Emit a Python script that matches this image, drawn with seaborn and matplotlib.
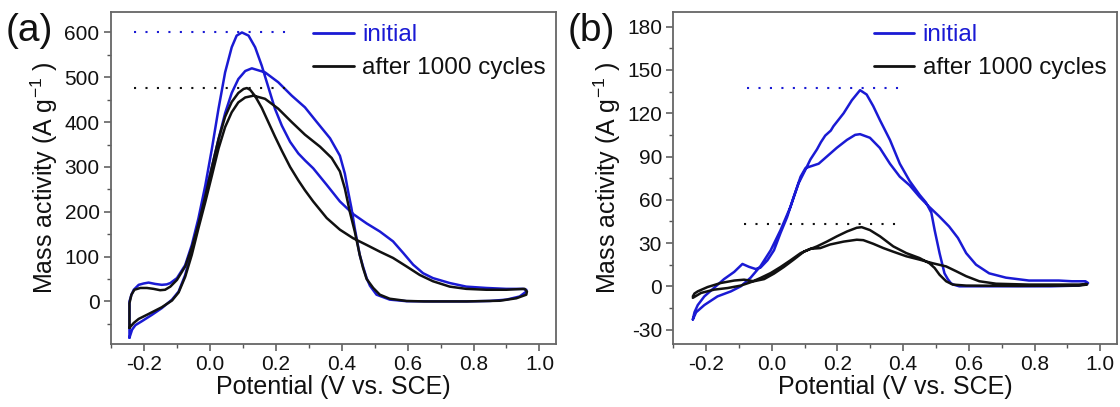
import numpy as np
import pandas as pd
import matplotlib
matplotlib.use("Agg")
import matplotlib.pyplot as plt
from matplotlib.ticker import MultipleLocator
import seaborn as sns

# (a) 初始 / 1000 圈后 的 CV 回路（正扫 + 回扫）
a_init_x = [-0.243, -0.243, -0.243, -0.237, -0.230, -0.215, -0.200, -0.185, -0.165, -0.145, -0.130, -0.119,
            -0.099, -0.074, -0.054, -0.034, -0.013, 0.007, 0.027, 0.047, 0.067, 0.082, 0.098, 0.118, 0.138,
            0.158, 0.178, 0.198, 0.219, 0.244, 0.269, 0.290, 0.314, 0.355, 0.395, 0.435, 0.476, 0.516, 0.556,
            0.587, 0.617, 0.647, 0.677, 0.728, 0.778, 0.839, 0.899, 0.950, 0.960,
            0.960, 0.940, 0.900, 0.850, 0.778, 0.677, 0.597, 0.546, 0.506, 0.486, 0.476, 0.465, 0.455, 0.440,
            0.430, 0.420, 0.410, 0.395, 0.365, 0.324, 0.289, 0.249, 0.208, 0.168, 0.128, 0.108, 0.087, 0.067,
            0.047, 0.027, 0.007, -0.013, -0.034, -0.054, -0.074, -0.094, -0.114, -0.145, -0.175, -0.205,
            -0.225, -0.235, -0.243]
a_init_y = [-81, -40, 0, 15, 26, 37, 40, 42, 39, 37, 38, 41,
            52, 81, 126, 185, 259, 341, 430, 511, 567, 593, 600, 593, 567,
            526, 478, 430, 392, 356, 330, 314, 297, 260, 223, 195, 174, 156, 134,
            108, 82, 63, 52, 41, 33, 30, 28, 28, 26,
            22, 11, 4, 1, 0, 0, 0.5, 4, 15, 35, 52, 78, 104, 163,
            208, 245, 285, 325, 364, 401, 433, 459, 489, 511, 520, 514, 496, 465,
            420, 362, 300, 237, 174, 115, 59, 22, 4, -15, -30, -44,
            -53, -63, -81]

a_cyc_x = [-0.243, -0.243, -0.243, -0.237, -0.228, -0.210, -0.190, -0.170, -0.150, -0.135, -0.119, -0.099,
           -0.074, -0.054, -0.034, -0.013, 0.007, 0.027, 0.047, 0.067, 0.087, 0.103, 0.113, 0.123, 0.138,
           0.158, 0.178, 0.198, 0.219, 0.244, 0.269, 0.289, 0.314, 0.355, 0.395, 0.435, 0.476, 0.516, 0.556,
           0.597, 0.637, 0.677, 0.728, 0.778, 0.839, 0.899, 0.955, 0.962,
           0.960, 0.930, 0.880, 0.780, 0.650, 0.597, 0.546, 0.516, 0.496, 0.476, 0.465, 0.455, 0.440, 0.425,
           0.410, 0.395, 0.370, 0.335, 0.289, 0.249, 0.208, 0.168, 0.133, 0.108, 0.087, 0.067, 0.047, 0.027,
           0.007, -0.013, -0.034, -0.054, -0.074, -0.094, -0.114, -0.145, -0.185, -0.215, -0.230, -0.243]
a_cyc_y = [-59, -30, -4, 15, 26, 30, 30, 28, 25, 26, 33, 48,
           78, 120, 172, 235, 300, 362, 412, 445, 465, 474, 476, 472, 458,
           432, 400, 368, 336, 300, 270, 248, 223, 186, 160, 141, 126, 111, 97,
           78, 59, 45, 33, 28, 26, 26, 28, 22,
           15, 7, 1.5, 0, 0, 1, 6, 15, 30, 50, 75, 104, 156, 200,
           252, 290, 320, 345, 372, 400, 430, 452, 459, 455, 444, 422, 389, 341,
           281, 222, 163, 104, 55, 20, 2, -13, -28, -39, -48, -59]

# (b)
b_init_x = [-0.240, -0.235, -0.225, -0.205, -0.175, -0.145, -0.114, -0.089, -0.069, -0.049, -0.034, -0.013,
            0.007, 0.027, 0.047, 0.067, 0.088, 0.103, 0.123, 0.143, 0.168, 0.198, 0.229, 0.254, 0.269, 0.299,
            0.329, 0.360, 0.390, 0.420, 0.450, 0.480, 0.510, 0.540, 0.567, 0.592, 0.622, 0.662, 0.713, 0.783,
            0.874, 0.914, 0.955, 0.963,
            0.960, 0.935, 0.850, 0.682, 0.571, 0.556, 0.546, 0.536, 0.526, 0.511, 0.496, 0.486, 0.470, 0.450,
            0.420, 0.390, 0.360, 0.330, 0.309, 0.289, 0.269, 0.244, 0.219, 0.188, 0.180, 0.163, 0.150, 0.138,
            0.118, 0.103, 0.082, 0.057, 0.027, -0.003, -0.034, -0.064, -0.094, -0.124, -0.165, -0.205, -0.230,
            -0.240]
b_init_y = [-23, -18, -13, -7, -1, 5, 10, 15.5, 13.5, 12, 13, 18,
            25, 37, 48, 62, 76, 82, 83.5, 85, 90, 96, 101.5, 105, 105.5, 103,
            96, 85, 76, 70, 62, 55, 48.5, 41.5, 33.5, 23, 15, 9, 6, 4,
            4, 3.5, 3.5, 2.3,
            2, 0.5, 0, 0, 0, 1, 2, 5, 9, 23, 39, 51, 58, 63.5,
            73, 85, 101.5, 115, 125, 133, 136, 129, 120, 111, 108, 104.5, 100, 95,
            88, 81, 71.5, 55, 39, 25, 14, 6, 0, -3.5, -7, -13, -18,
            -23]

b_cyc_x = [-0.240, -0.235, -0.225, -0.195, -0.155, -0.114, -0.084, -0.054, -0.023, 0.007, 0.037, 0.067,
           0.098, 0.118, 0.148, 0.178, 0.219, 0.259, 0.279, 0.309, 0.340, 0.370, 0.410, 0.450, 0.490, 0.531,
           0.562, 0.592, 0.632, 0.683, 0.783, 0.935, 0.960,
           0.960, 0.935, 0.750, 0.592, 0.551, 0.531, 0.511, 0.496, 0.480, 0.450, 0.410, 0.370, 0.330, 0.299,
           0.274, 0.259, 0.229, 0.198, 0.168, 0.138, 0.108, 0.088, 0.057, 0.027, -0.003, -0.034, -0.064,
           -0.094, -0.134, -0.175, -0.215, -0.240]
b_cyc_y = [-7, -5, -3.5, -0.5, 2.3, 4, 4.6, 3.5, 5, 8.8, 13.4, 18.5,
           24, 26, 26.5, 29, 31, 32.3, 32, 29.5, 26.5, 24, 20.8, 18.5, 16, 13.8,
           10.4, 7, 3.5, 1.8, 1.2, 1.2, 1.6,
           1.2, 0.5, 0.3, 0.5, 1.2, 3.5, 8, 12.7, 16, 19.6, 23, 27.7, 34.6, 39,
           41, 40.6, 38, 34.6, 31, 27.7, 25, 23, 18, 13.4, 9.2, 5.8, 2.8,
           0.5, -1.2, -2.3, -4.6, -8]

# 峰值虚线
a_peak_x = [-0.23, 0.235]
a_peak_init = 600
a_peak_cyc = 476
b_peak_init_x = [-0.074, 0.39]
b_peak_cyc_x = [-0.084, 0.38]
b_peak_init = 137.5
b_peak_cyc = 43

labels = ["initial", "after 1000 cycles"]
blue = "#1a1ad4"
black = "#111111"

sns.set_theme(style="ticks")
plt.rcParams["font.family"] = ["Liberation Sans", "DejaVu Sans"]
plt.rcParams["mathtext.default"] = "regular"
plt.rcParams["axes.unicode_minus"] = False

fig = plt.figure(figsize=(11.2, 4.07), dpi=100)
ax1 = fig.add_axes([0.0988, 0.1548, 0.3976, 0.815])
ax2 = fig.add_axes([0.601, 0.1548, 0.396, 0.815])


def draw_loop(ax, x, y, color, label):
    df = pd.DataFrame({"E": x, "j": y})
    sns.lineplot(data=df, x="E", y="j", sort=False, estimator=None, color=color,
                 lw=1.8, ax=ax, label=label)


def draw_peak(ax, x, level, color):
    df = pd.DataFrame({"E": x, "j": [level] * len(x)})
    sns.lineplot(data=df, x="E", y="j", sort=False, estimator=None, color=color,
                 lw=1.5, ls=(0, (1, 4.5)), ax=ax)


draw_loop(ax1, a_init_x, a_init_y, blue, labels[0])
draw_loop(ax1, a_cyc_x, a_cyc_y, black, labels[1])
draw_peak(ax1, a_peak_x, a_peak_init, blue)
draw_peak(ax1, a_peak_x, a_peak_cyc, black)

draw_loop(ax2, b_init_x, b_init_y, blue, labels[0])
draw_loop(ax2, b_cyc_x, b_cyc_y, black, labels[1])
draw_peak(ax2, b_peak_init_x, b_peak_init, blue)
draw_peak(ax2, b_peak_cyc_x, b_peak_cyc, black)

ax1.set_ylim(-95, 645)
ax1.yaxis.set_major_locator(MultipleLocator(100))
ax1.yaxis.set_minor_locator(MultipleLocator(50))
ax2.set_ylim(-40, 190)
ax2.yaxis.set_major_locator(MultipleLocator(30))
ax2.yaxis.set_minor_locator(MultipleLocator(15))

for ax, tag, xt in [(ax1, "(a)", 0.005), (ax2, "(b)", 0.507)]:
    ax.set_xlim(-0.3, 1.05)
    ax.xaxis.set_major_locator(MultipleLocator(0.2))
    ax.xaxis.set_minor_locator(MultipleLocator(0.1))
    ax.xaxis.set_major_formatter(matplotlib.ticker.FormatStrFormatter("%.1f"))
    ax.set_xlabel("Potential (V vs. SCE)", fontsize=18, color="#111111", labelpad=1)
    ax.set_ylabel("Mass activity (A g$^{-1}$ )", fontsize=18, color="#111111", labelpad=3)
    ax.tick_params(which="major", direction="out", length=5, width=1.1, labelsize=15,
                   colors="#555555", labelcolor="#111111", pad=3)
    ax.tick_params(which="minor", direction="out", length=3, width=1.0, colors="#555555")
    for s in ax.spines.values():
        s.set_visible(True)
        s.set_color("#666666")
        s.set_linewidth(1.3)
    leg = ax.legend(loc="upper right", bbox_to_anchor=(1.015, 1.015), frameon=False, fontsize=17.5,
                    handlelength=1.65, handletextpad=0.35, labelspacing=0.45, borderaxespad=0.3)
    for text, line in zip(leg.get_texts(), leg.get_lines()):
        text.set_color(line.get_color())
        line.set_linewidth(2)
    fig.text(xt, 0.925, tag, fontsize=28, color="#111111", va="center", ha="left")

fig.savefig("out.png", dpi=100)
